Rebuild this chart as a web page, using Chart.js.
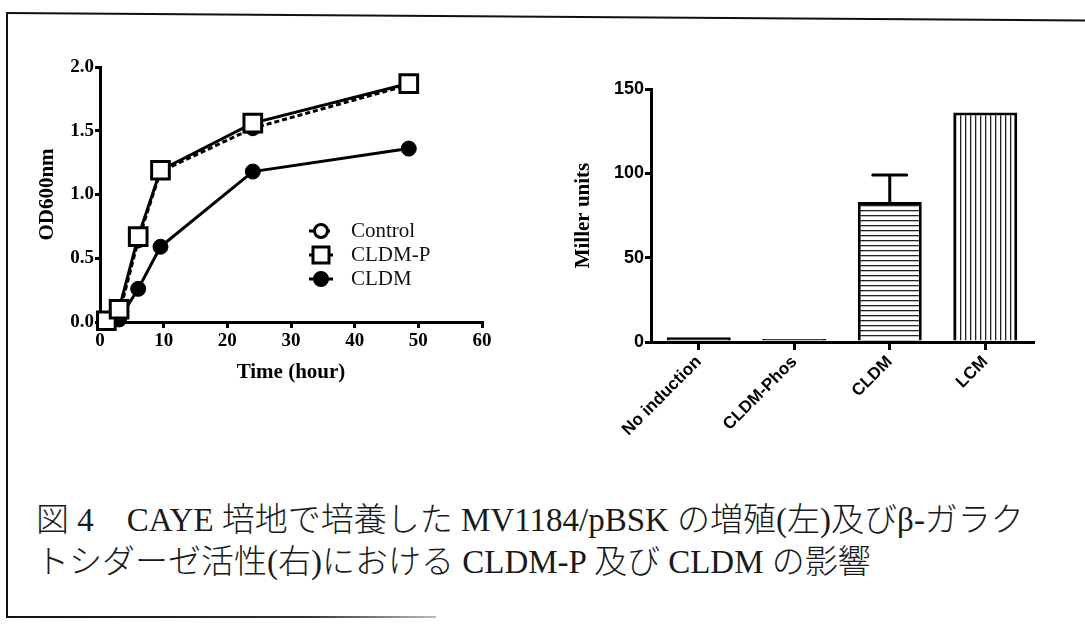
<!DOCTYPE html>
<html>
<head>
<meta charset="utf-8">
<script src="https://cdn.jsdelivr.net/npm/chart.js@4/dist/chart.umd.min.js"></script>
<style>
  html, body { margin: 0; padding: 0; background: #fff; }
  body { width: 1085px; height: 624px; position: relative; overflow: hidden; }
  .frame-left { position: absolute; left: 6px; top: 12px; width: 2px; height: 606px; background: #111; }
  .frame-top { position: absolute; left: 6px; top: 12px; width: 1085px; height: 2px; background: #111;
               transform-origin: 0 0; transform: rotate(0.4deg); }
  .frame-bottom { position: absolute; left: 6px; top: 616px; width: 430px; height: 2px;
                  background: linear-gradient(to right, #111 0%, #333 70%, #bbb 100%); }
  #growth { position: absolute; left: 0; top: 40px; }
  #miller { position: absolute; left: 540px; top: 60px; }
  .caption { position: absolute; left: 36px; top: 499px; font-family: "Liberation Serif", "Noto Sans CJK JP", serif;
             font-size: 33px; line-height: 42px; color: #1a1a1a; white-space: nowrap; font-weight: 300; }
</style>
</head>
<body>
<div class="frame-left"></div>
<div class="frame-top"></div>
<div class="frame-bottom"></div>
<canvas id="growth" width="520" height="370"></canvas>
<canvas id="miller" width="545" height="420"></canvas>
<div class="caption">図 4　CAYE 培地で培養した MV1184/pBSK の増殖(左)及びβ-ガラク<br>トシダーゼ活性(右)における CLDM-P 及び CLDM の影響</div>

<script>
    // 左: 増殖曲線 (OD600)
    const hours = [1, 3, 6, 9.5, 24, 48.5];
    const controlOD = [0.0, 0.06, 0.64, 1.18, 1.52, 1.86];
    const cldmPOD = [0.01, 0.1, 0.67, 1.19, 1.56, 1.87];
    const cldmOD = [0.0, 0.02, 0.26, 0.59, 1.18, 1.36];
    const growthNames = ['Control', 'CLDM-P', 'CLDM'];

    // 右: β-ガラクトシダーゼ活性
    const conditions = ['No induction', 'CLDM-Phos', 'CLDM', 'LCM'];
    const millerUnits = [2.8, 1.8, 83, 136];
    const millerErr = [0, 0, 16, 0];

    const serifBold = { family: '"Liberation Serif", "Times New Roman", serif', size: 19, weight: 'bold' };
    const sansBold = { family: '"Liberation Sans Narrow", "Liberation Sans", Arial, sans-serif', size: 17, weight: 'bold' };

    function toPoints(ys) {
        return hours.map((h, i) => ({ x: h, y: ys[i] }));
    }

    // 縞模様のパターン
    function makeStripes(vertical) {
        const c = document.createElement('canvas');
        c.width = 5; c.height = 5;
        const g = c.getContext('2d');
        g.fillStyle = '#fff';
        g.fillRect(0, 0, 5, 5);
        g.fillStyle = '#222';
        if (vertical) g.fillRect(0, 0, 1.3, 5);
        else g.fillRect(0, 0, 5, 1.3);
        return g.createPattern(c, 'repeat');
    }

    // 凡例をプロット内に描く
    const insideLegend = {
        id: 'insideLegend',
        afterDatasetsDraw(chart) {
            const ctx = chart.ctx;
            const rows = [191, 215, 239];
            const x0 = 309, x1 = 333, xm = 321;
            ctx.save();
            chart.data.datasets.forEach((ds, i) => {
                const y = rows[i];
                ctx.strokeStyle = '#000';
                ctx.lineWidth = 3;
                ctx.setLineDash(ds.borderDash || []);
                ctx.beginPath();
                ctx.moveTo(x0, y);
                ctx.lineTo(x1, y);
                ctx.stroke();
                ctx.setLineDash([]);
                ctx.fillStyle = ds.pointBackgroundColor;
                ctx.beginPath();
                if (ds.pointStyle === 'rect') {
                    ctx.rect(xm - 8, y - 8, 16, 16);
                } else {
                    ctx.arc(xm, y, 6.5, 0, Math.PI * 2);
                }
                ctx.fill();
                ctx.stroke();
                ctx.fillStyle = '#111';
                ctx.font = '21px "Liberation Serif", serif';
                ctx.textAlign = 'left';
                ctx.textBaseline = 'middle';
                ctx.fillText(growthNames[i], 351, y);
            });
            ctx.restore();
        }
    };

    // 誤差棒 (上側のみ)
    const errorBars = {
        id: 'errorBars',
        afterDatasetsDraw(chart) {
            const ctx = chart.ctx;
            const meta = chart.getDatasetMeta(0);
            const yScale = chart.scales.y;
            ctx.save();
            ctx.strokeStyle = '#000';
            ctx.lineWidth = 3;
            ctx.lineCap = 'round';
            millerErr.forEach((e, i) => {
                if (!e) return;
                const x = meta.data[i].x;
                const yb = yScale.getPixelForValue(millerUnits[i]);
                const yt = yScale.getPixelForValue(millerUnits[i] + e);
                ctx.beginPath();
                ctx.moveTo(x, yb);
                ctx.lineTo(x, yt);
                ctx.moveTo(x - 17, yt);
                ctx.lineTo(x + 17, yt);
                ctx.stroke();
            });
            ctx.restore();
        }
    };

    new Chart(document.getElementById('growth'), {
        type: 'line',
        data: {
            datasets: [
                {
                    label: growthNames[0],
                    data: toPoints(controlOD),
                    borderColor: '#000',
                    borderWidth: 3,
                    borderDash: [5, 3],
                    pointStyle: 'circle',
                    pointRadius: 6.5,
                    pointBorderWidth: 3,
                    pointBackgroundColor: '#fff',
                    pointBorderColor: '#000',
                    order: 1,
                    clip: false
                },
                {
                    label: growthNames[1],
                    data: toPoints(cldmPOD),
                    borderColor: '#000',
                    borderWidth: 3,
                    pointStyle: 'rect',
                    pointRadius: 12.5,
                    pointBorderWidth: 3,
                    pointBackgroundColor: '#fff',
                    pointBorderColor: '#000',
                    order: 0,
                    clip: false
                },
                {
                    label: growthNames[2],
                    data: toPoints(cldmOD),
                    borderColor: '#000',
                    borderWidth: 3,
                    pointStyle: 'circle',
                    pointRadius: 7.5,
                    pointBorderWidth: 1,
                    pointBackgroundColor: '#000',
                    pointBorderColor: '#000',
                    order: 2,
                    clip: false
                }
            ]
        },
        options: {
            responsive: false,
            animation: false,
            events: [],
            layout: { padding: { left: 31, top: 27, right: 38, bottom: 21 } },
            plugins: { legend: { display: false }, tooltip: { enabled: false } },
            scales: {
                x: {
                    type: 'linear',
                    min: 0,
                    max: 60,
                    afterFit: s => { s.height = 67; },
                    border: { display: true, color: '#000', width: 3 },
                    grid: { drawOnChartArea: false, drawTicks: true, tickLength: 6, color: '#000', lineWidth: 3 },
                    ticks: { stepSize: 10, color: '#000', font: serifBold, padding: 2 },
                    title: { display: true, text: 'Time (hour)', color: '#000', font: { ...serifBold, size: 21 }, padding: 4 }
                },
                y: {
                    min: 0,
                    max: 2,
                    afterFit: s => { s.width = 69; },
                    border: { display: true, color: '#000', width: 3 },
                    grid: { drawOnChartArea: false, drawTicks: true, tickLength: 5, color: '#000', lineWidth: 3 },
                    ticks: { stepSize: 0.5, color: '#000', font: serifBold, padding: 1, callback: v => v.toFixed(1) },
                    title: { display: true, text: 'OD600nm', color: '#000', font: { ...serifBold, size: 21 }, padding: 4 }
                }
            }
        },
        plugins: [insideLegend]
    });

    new Chart(document.getElementById('miller'), {
        type: 'bar',
        data: {
            labels: conditions,
            datasets: [{
                label: 'Miller units',
                data: millerUnits,
                backgroundColor: ['#444', '#444', makeStripes(false), makeStripes(true)],
                borderColor: '#000',
                borderWidth: 3,
                barPercentage: 0.67,
                categoryPercentage: 1.0
            }]
        },
        options: {
            responsive: false,
            animation: false,
            events: [],
            layout: { padding: { left: 27, top: 29, right: 52, bottom: 0 } },
            plugins: { legend: { display: false }, tooltip: { enabled: false } },
            scales: {
                x: {
                    offset: true,
                    afterFit: s => { s.height = 138; },
                    border: { display: true, color: '#000', width: 3 },
                    grid: { offset: false, drawOnChartArea: false, drawTicks: true, tickLength: 8, color: '#000', lineWidth: 3 },
                    ticks: { minRotation: 45, maxRotation: 45, color: '#000', font: sansBold, padding: 2, autoSkip: false }
                },
                y: {
                    min: 0,
                    max: 150,
                    afterFit: s => { s.width = 84; },
                    border: { display: true, color: '#000', width: 3 },
                    grid: { drawOnChartArea: false, drawTicks: true, tickLength: 6, color: '#000', lineWidth: 3 },
                    ticks: { stepSize: 50, color: '#000', font: { ...sansBold, size: 18 }, padding: 1 },
                    title: { display: true, text: 'Miller units', color: '#000', font: { ...serifBold, size: 21 }, padding: 4 }
                }
            }
        },
        plugins: [errorBars]
    });
</script>
</body>
</html>
